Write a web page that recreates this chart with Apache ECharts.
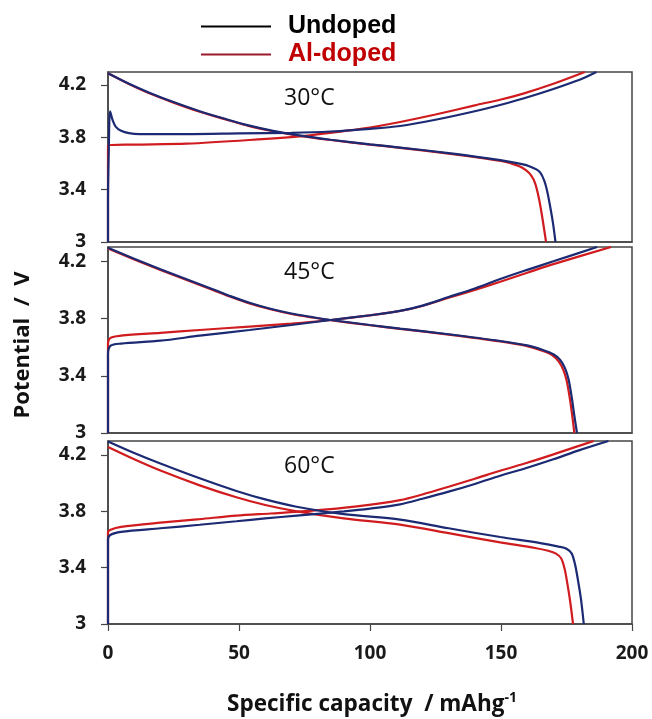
<!DOCTYPE html>
<html><head><meta charset="utf-8">
<script src="https://cdn.jsdelivr.net/npm/echarts@6/dist/echarts.min.js"></script>
<style>html,body{margin:0;padding:0;background:#fff}#c{width:652px;height:719px}</style>
</head><body><div id="c"></div>
<script>
const temperatures = ['30°C', '45°C', '60°C'];
const seriesNames = ['Undoped', 'Al-doped'];
const capacityTicks = [0, 50, 100, 150, 200];
const potentialTicks = [3, 3.4, 3.8, 4.2];

// [specific capacity (mAh/g), potential (V)]
const undoped30Charge = [[0,3.0],[0,3.3],[0.3,3.7],[0.8,4.0],[1.8,3.93],[3,3.88],[5,3.85],[8,3.832],[12,3.825],[30,3.825],[50,3.83],[70,3.835],[85,3.845],[100,3.865],[111.5,3.887],[125,3.935],[140,4.0],[150,4.05],[158.5,4.097],[170,4.17],[180,4.24],[186.4,4.3]];
const aldoped30Charge = [[0,3.0],[0,3.74],[10,3.745],[30,3.752],[54,3.78],[75,3.812],[90,3.848],[100,3.875],[111.5,3.918],[125,3.975],[140,4.045],[150,4.09],[158.5,4.135],[170,4.21],[182,4.3]];
const undoped30Discharge = [[0,4.29],[8,4.21],[16,4.14],[25,4.07],[35,4.0],[45,3.94],[54,3.89],[63,3.85],[73,3.815],[85,3.782],[100,3.747],[111.5,3.722],[130,3.68],[145,3.64],[153,3.615],[158,3.595],[161,3.578],[163.5,3.555],[165,3.53],[166.5,3.47],[167.5,3.4],[168.5,3.3],[169.8,3.15],[170.8,3.0]];
const aldoped30Discharge = [[0,4.29],[8,4.208],[16,4.135],[25,4.066],[35,3.996],[45,3.937],[54,3.886],[63,3.847],[73,3.812],[85,3.78],[100,3.745],[111.5,3.72],[130,3.676],[145,3.635],[150,3.62],[154,3.6],[157,3.58],[159.5,3.55],[161.5,3.51],[163,3.45],[164.3,3.35],[165.5,3.22],[167.2,3.0]];

const undoped45Charge = [[0,3.0],[0,3.55],[1,3.61],[5,3.625],[20,3.645],[35,3.68],[54,3.72],[70,3.755],[85,3.79],[100,3.823],[111.5,3.853],[120,3.89],[130,3.95],[140,4.01],[149.7,4.076],[160,4.14],[170,4.2],[186.7,4.3]];
const aldoped45Charge = [[0,3.0],[0,3.62],[1,3.665],[5,3.68],[20,3.7],[35,3.72],[54,3.744],[70,3.765],[85,3.79],[100,3.822],[111.5,3.853],[120,3.888],[130,3.945],[140,4.0],[149.7,4.057],[160,4.12],[170,4.18],[192,4.3]];
const undoped45Discharge = [[0,4.295],[10,4.218],[20,4.145],[30,4.075],[40,4.005],[47,3.955],[54,3.91],[62,3.868],[70,3.835],[78,3.81],[85,3.79],[100,3.755],[111.5,3.73],[130,3.69],[149.7,3.643],[160,3.612],[166,3.58],[170,3.55],[172.6,3.51],[174.5,3.45],[175.8,3.374],[177,3.25],[178,3.12],[179,3.0]];
const aldoped45Discharge = [[0,4.29],[10,4.213],[20,4.14],[30,4.07],[40,4.0],[47,3.951],[54,3.906],[62,3.865],[70,3.832],[78,3.807],[85,3.788],[100,3.753],[111.5,3.728],[130,3.688],[149.7,3.64],[160,3.607],[166,3.574],[169.5,3.545],[172,3.5],[173.8,3.44],[175,3.37],[176.2,3.25],[177.2,3.12],[178,3.0]];

const undoped60Charge = [[0,3.0],[0,3.6],[1,3.634],[5,3.655],[20,3.68],[35,3.705],[49,3.73],[60,3.75],[72,3.77],[90,3.8],[100,3.82],[111.5,3.85],[120,3.89],[130,3.94],[140,3.995],[149.7,4.053],[160,4.11],[170,4.17],[180,4.235],[191,4.3]];
const aldoped60Charge = [[0,3.0],[0,3.65],[1,3.67],[5,3.69],[20,3.72],[35,3.745],[49,3.77],[62,3.785],[77,3.803],[95,3.835],[111.5,3.88],[120,3.92],[130,3.975],[140,4.032],[149.7,4.089],[160,4.145],[170,4.205],[178,4.255],[185.4,4.3]];
const undoped60Discharge = [[0,4.297],[10,4.215],[20,4.14],[35,4.035],[49,3.945],[60,3.885],[72,3.833],[90,3.78],[111.5,3.742],[130,3.68],[149.7,3.618],[165,3.575],[172,3.55],[175,3.535],[177,3.5],[178.3,3.42],[179.3,3.32],[180.5,3.18],[181.6,3.0]];
const aldoped60Discharge = [[0,4.257],[10,4.17],[20,4.09],[35,3.985],[49,3.9],[60,3.845],[72,3.8],[90,3.75],[111.5,3.706],[130,3.645],[149.7,3.58],[163,3.54],[168,3.52],[171,3.5],[173,3.465],[174.3,3.39],[175.3,3.29],[176.4,3.16],[177.5,3.0]];

const panelCurves = [
  { undoped: [undoped30Charge, undoped30Discharge], aldoped: [aldoped30Charge, aldoped30Discharge] },
  { undoped: [undoped45Charge, undoped45Discharge], aldoped: [aldoped45Charge, aldoped45Discharge] },
  { undoped: [undoped60Charge, undoped60Discharge], aldoped: [aldoped60Charge, aldoped60Discharge] }
];

const navy = '#1b2a72';
const red = '#d01c1f';
const frame = '#454545';
const tickFont = { fontFamily: 'Open Sans', fontWeight: 'bold', fontSize: 19, color: '#1a1a1a' };

const grids = [
  { left: 108, width: 524, top: 72, height: 170 },
  { left: 108, width: 524, top: 247, height: 186 },
  { left: 108, width: 524, top: 441, height: 183 }
].map(g => Object.assign({ show: true, borderColor: frame, borderWidth: 1.5, containLabel: false }, g));

const xAxes = grids.map((g, i) => ({
  type: 'value', gridIndex: i, min: 0, max: 200, interval: 50,
  axisLine: { show: true, lineStyle: { color: frame, width: 1.5 } },
  axisTick: { show: i === 2, length: 7, lineStyle: { color: frame, width: 1.2 }, customValues: capacityTicks },
  axisLabel: Object.assign({ show: i === 2, margin: 20, customValues: capacityTicks }, tickFont),
  splitLine: { show: false }
}));

const yAxes = grids.map((g, i) => ({
  type: 'value', gridIndex: i, min: 3, max: 4.3,
  axisLine: { show: true, lineStyle: { color: frame, width: 1.5 } },
  axisTick: { show: true, length: 7, lineStyle: { color: frame, width: 1.2 }, customValues: potentialTicks },
  axisLabel: Object.assign({ margin: 22, customValues: potentialTicks, formatter: v => String(+v.toFixed(1)) }, tickFont),
  splitLine: { show: false }
}));

const series = [];
panelCurves.forEach((p, i) => {
  p.aldoped.forEach(d => series.push({
    type: 'line', name: seriesNames[1], xAxisIndex: i, yAxisIndex: i, data: d, smooth: 0.3,
    showSymbol: false, symbol: 'none', color: red, lineStyle: { color: red, width: 2.2 }, z: 2, animation: false
  }));
  p.undoped.forEach(d => series.push({
    type: 'line', name: seriesNames[0], xAxisIndex: i, yAxisIndex: i, data: d, smooth: 0.3,
    showSymbol: false, symbol: 'none', color: navy, lineStyle: { color: navy, width: 2.2 }, z: 3, animation: false
  }));
});

const legendText = { fontFamily: 'Liberation Sans', fontWeight: 'bold', fontSize: 25, padding: [0, 0, 0, 12] };
const legends = [
  { name: seriesNames[0], top: 9, icon: '#000', text: '#000' },
  { name: seriesNames[1], top: 37, icon: '#9b1a2c', text: '#c00000' }
].map(l => ({
  left: 196, top: l.top, orient: 'vertical', icon: 'rect', itemWidth: 70, itemHeight: 2,
  selectedMode: false,
  data: [{ name: l.name, icon: 'rect', itemStyle: { color: l.icon, borderWidth: 0 }, textStyle: Object.assign({ color: l.text }, legendText) }],
  textStyle: Object.assign({ color: l.text }, legendText)
}));

const tempY = [98, 272, 466];
const graphics = temperatures.map((t, i) => ({
  type: 'text', x: 284, y: tempY[i], z: 10,
  style: { text: t, font: '23px "Open Sans"', fill: '#111', verticalAlign: 'middle', align: 'left' }
}));
graphics.push({
  type: 'text', x: 23, y: 345, rotation: Math.PI / 2, z: 10,
  style: { text: 'Potential  /  V', font: 'bold 22px "Open Sans"', fill: '#111', align: 'center', verticalAlign: 'middle' }
});
graphics.push({
  type: 'text', x: 372, y: 705, z: 10,
  style: {
    text: '{m|Specific capacity  / mAhg}{s|-1}', align: 'center', verticalAlign: 'middle',
    rich: {
      m: { font: 'bold 22.5px "Open Sans"', fill: '#111', lineHeight: 28 },
      s: { font: 'bold 14px "Open Sans"', fill: '#111', lineHeight: 28, verticalAlign: 'top' }
    }
  }
});

const chart = echarts.init(document.getElementById('c'), null, { renderer: 'canvas' });
chart.setOption({
  animation: false,
  backgroundColor: '#fff',
  grid: grids, xAxis: xAxes, yAxis: yAxes, series: series,
  legend: legends, graphic: graphics
});
</script></body></html>
